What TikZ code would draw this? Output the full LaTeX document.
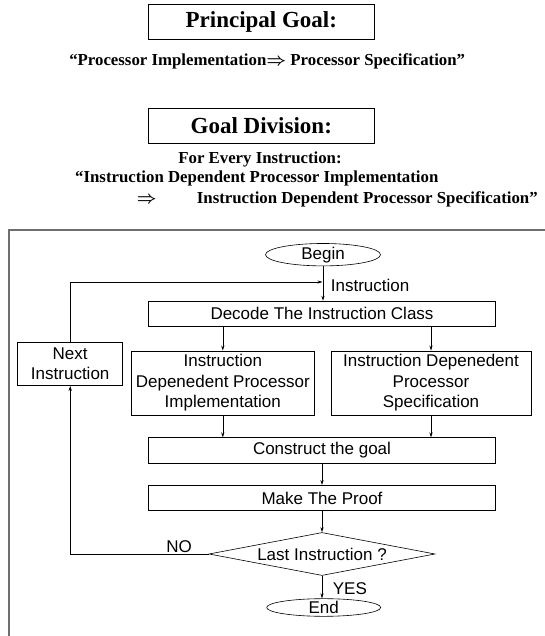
\documentclass[tikz,border=0pt]{standalone}
\usepackage{fontspec}
\setmainfont{Liberation Serif}
\newfontfamily\arialfont{Liberation Sans}
\usetikzlibrary{arrows.meta, positioning, shapes.geometric}
\definecolor{framegray}{RGB}{110,110,110}

\begin{document}
\begin{tikzpicture}[
    x=1pt, y=1pt,
    titlebox/.style={rectangle, draw, line width=0.7pt, minimum width=226pt,
                minimum height=35pt, inner sep=0pt,
                font=\fontsize{23}{27}\selectfont\bfseries},
    goaltext/.style={inner sep=0pt, font=\fontsize{16.8}{20}\selectfont\bfseries\boldmath},
    flowbox/.style={rectangle, draw, line width=0.6pt, align=center, inner sep=0pt,
                font=\arialfont\fontsize{17}{20.6}\selectfont},
    termnode/.style={ellipse, draw, line width=0.6pt, inner sep=0pt,
                minimum width=115pt, minimum height=17.5pt,
                font=\arialfont\fontsize{17}{20.6}\selectfont},
    flowlabel/.style={inner sep=0pt, font=\arialfont\fontsize{17}{20.6}\selectfont},
    arr/.style={-{Stealth[length=5pt, width=3.2pt]}, line width=0.6pt}
  ]
    \useasboundingbox (0,0) rectangle (545,636);
    % goals
    \node[titlebox] (pgoal) at (261.3,614.3) {Principal Goal:};
    \node[goaltext] (pquote) at (267.2,574.3)
      {“Processor Implementation$\Rightarrow$ Processor Specification”};
    \node[titlebox] (gdiv) at (261.3,510) {Goal Division:};
    \node[goaltext] (every) at (260,476.7) {For Every Instruction:};
    \node[goaltext, anchor=west] (instline) at (75,457.7)
      {“Instruction Dependent Processor Implementation};
    \node[goaltext, anchor=west] (specline) at (136.7,437)
      {\makebox[16.6pt][l]{$\Rightarrow$}\hspace{43.4pt}Instruction Dependent Processor Specification”};
    % frame
    \draw[framegray, line width=1.5pt] (9,0) -- (9,406) -- (545,406);
    % flow chart
    \node[termnode] (begin) at (323,381.3) {Begin};
    \node[flowbox, minimum width=347pt, minimum height=25pt] (decode) at (322,322.5)
      {Decode The Instruction Class};
    \node[flowbox, minimum width=105pt, minimum height=43.7pt] (nextins) at (70.2,272.2)
      {Next\\Instruction};
    \node[flowbox, minimum width=182.3pt, minimum height=64.3pt] (impl) at (222.8,253)
      {Instruction\\Depenedent Processor\\Implementation};
    \node[flowbox, minimum width=200pt, minimum height=64.3pt] (spec) at (431,253)
      {Instruction Depenedent\\Processor\\Specification};
    \node[flowbox, minimum width=347pt, minimum height=25.6pt] (construct) at (322,185.5)
      {Construct the goal};
    \node[flowbox, minimum width=347pt, minimum height=25.4pt] (proof) at (322,138)
      {Make The Proof};
    \node[flowbox, diamond, aspect=5.26, minimum width=226pt, minimum height=43pt] (last)
      at (322,82) {Last Instruction ?};
    \node[termnode, minimum width=114pt, minimum height=17pt] (stop) at (323.7,28.5) {End};
    \coordinate (loopin) at (322.5,354);
    \node[flowlabel, anchor=west] (inslabel) at (330.7,350.3) {Instruction};
    \node[flowlabel] (nolabel) at (179.2,89.3) {NO};
    \node[flowlabel, anchor=west] (yeslabel) at (332.7,47.7) {YES};
    \draw[arr] (begin.south) -- (begin.south |- decode.north);
    \draw[arr] (nextins.north) |- (loopin);
    \draw[arr] (impl.north |- decode.south) -- (impl.north);
    \draw[arr] (spec.north |- decode.south) -- (spec.north);
    \draw[arr] (impl.south) -- (impl.south |- construct.north);
    \draw[arr] (spec.south) -- (spec.south |- construct.north);
    \draw[arr] (construct) -- (proof);
    \draw[arr] (proof) -- (last);
    \draw[arr] (last.west) -| (nextins.south);
    \draw[arr] (last.south) -- (last.south |- stop.north);
\end{tikzpicture}
\end{document}
